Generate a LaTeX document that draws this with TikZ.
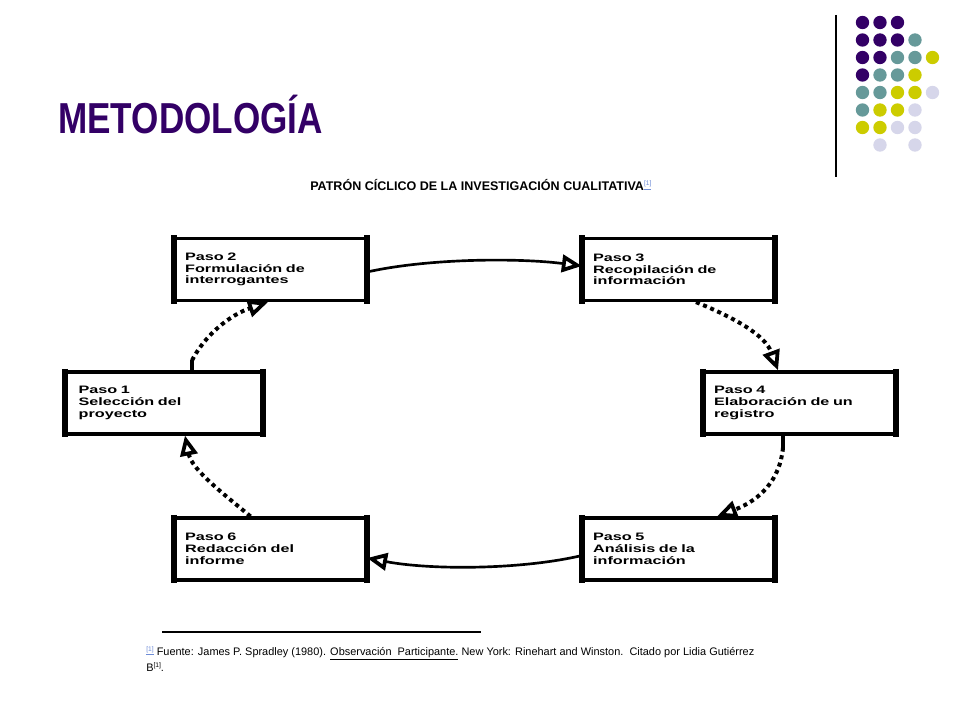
\documentclass[tikz,border=0pt]{standalone}
\usepackage{fontspec}
\setmainfont{Liberation Sans}
\newfontfamily\titlefont[FakeStretch=0.81]{Liberation Sans Bold}
\newfontfamily\boxfont[FakeStretch=1.5]{Liberation Sans Bold}
\newfontfamily\subfont{Liberation Sans Bold}
\usepackage{graphicx}
\usetikzlibrary{arrows.meta,calc}
\definecolor{mpurple}{RGB}{51,0,102}
\definecolor{mteal}{RGB}{102,153,153}
\definecolor{myellow}{RGB}{204,204,0}
\definecolor{mlav}{RGB}{214,214,234}
\definecolor{linkblue}{RGB}{110,140,215}
\begin{document}
\begin{tikzpicture}[x=0.75pt,y=-0.75pt,
  pbox/.style={draw, line width=2.4pt, inner xsep=7.1pt, inner ysep=0pt, align=left,
    minimum height=46.5pt, text width=128pt,
    font=\boxfont\fontsize{8.1}{8.8}\selectfont},
  dotline/.style={line width=3pt, dash pattern=on 3pt off 2.8pt},
  solline/.style={line width=2pt},
  otip/.style={-{Triangle[open,length=15pt,width=13pt,line width=2.8pt]}},
  plain/.style={anchor=base west, inner sep=0pt}
  ]
\useasboundingbox (0,0) rectangle (960,720);
\fill[white] (0,0) rectangle (960,720);

% decorative dots
\foreach \c/\r/\col in {1/1/mpurple,2/1/mpurple,3/1/mpurple,
  1/2/mpurple,2/2/mpurple,3/2/mpurple,4/2/mteal,
  1/3/mpurple,2/3/mpurple,3/3/mteal,4/3/mteal,5/3/myellow,
  1/4/mpurple,2/4/mteal,3/4/mteal,4/4/myellow,
  1/5/mteal,2/5/mteal,3/5/myellow,4/5/myellow,5/5/mlav,
  1/6/mteal,2/6/myellow,3/6/myellow,4/6/mlav,
  1/7/myellow,2/7/myellow,3/7/mlav,4/7/mlav,
  2/8/mlav,4/8/mlav}
  \fill[\col] ({862.5+17.5*(\c-1)},{22.5+17.5*(\r-1)}) circle[radius=5pt];
\draw[line width=1pt] (836,15) -- (836,177);

% titles
\node[plain, text=mpurple, font=\titlefont\fontsize{32.5}{34}\selectfont] (title) at (58,134) {METODOLOGÍA};
\node[plain, font=\subfont\fontsize{9.4}{10}\selectfont] (subtitle) at (310,190.5)
  {PATRÓN CÍCLICO DE LA INVESTIGACIÓN CUALITATIVA\raisebox{3.5pt}{\normalfont\fontsize{5}{5}\selectfont\textcolor{linkblue}{\underline{[1]}}}};

% boxes
\node[pbox, minimum width=142.5pt] (p2) at (270.5,269.5) {Paso 2\\Formulación de\\interrogantes};
\node[pbox, minimum width=142.5pt] (p3) at (678.5,269.5) {Paso 3\\Recopilación de\\información};
\node[pbox, minimum width=146.25pt] (p1) at (164,403) {Paso 1\\Selección del\\proyecto};
\node[pbox, minimum width=141pt] (p4) at (799.5,403) {Paso 4\\Elaboración de un\\registro};
\node[pbox, minimum width=142.5pt] (p6) at (270.5,549) {Paso 6\\Redacción del\\informe};
\node[pbox, minimum width=142.5pt] (p5) at (678.5,549) {Paso 5\\Análisis de la\\información};
\foreach \n in {p1,p2,p3,p4,p5,p6}{
  \draw[line width=4pt, shorten <=-1.2pt, shorten >=-1.2pt] (\n.north west) -- (\n.south west);
  \draw[line width=4pt, shorten <=-1.2pt, shorten >=-1.2pt] (\n.north east) -- (\n.south east);
}

% connectors
\draw[solline, otip] ($(p2.east)+(0,2.5)$) .. controls (430,258) and (520,258) .. ($(p3.west)+(0,-3.5)$);
\draw[dotline, otip] ($(p3.south)+(17.5,0)$) .. controls (735,318) and (765,335) .. ($(p4.north)+(-21.5,0)$);
\coordinate (s4) at ($(p4.south)+(-16.5,12)$);
\draw[solline, line width=3pt] ($(p4.south)+(-16.5,0)$) -- (s4);
\draw[dotline, otip] (s4) .. controls (780,480) and (760,500) .. ($(p5.north)+(38.5,0)$);
\draw[solline, otip] ($(p5.west)+(0,6.5)$) .. controls (520,570) and (430,570) .. ($(p6.east)+(0,9)$);
\draw[dotline, otip] ($(p6.north)+(-20,0)$) .. controls (225,495) and (192,470) .. ($(p1.south)+(21,0)$);
\coordinate (s1) at ($(p1.north)+(28,-10)$);
\draw[solline, line width=3pt] ($(p1.north)+(28,0)$) -- (s1);
\draw[dotline, otip] (s1) .. controls (205,335) and (230,315) .. ($(p2.south)+(-2.5,0)$);

% footnote
\draw[line width=1.5pt] (162,632) -- (481,632);
\node[plain, font=\fontsize{8.2}{9}\selectfont] (fn1) at (146,655)
  {\makebox[456pt][s]{\raisebox{3pt}{\fontsize{5}{5}\selectfont\textcolor{linkblue}{\underline{[1]}}} Fuente: James P. Spradley (1980). \underline{Observación\ \ Participante.} New York: Rinehart and Winston.\ \ Citado por Lidia Gutiérrez}};
\node[plain, font=\fontsize{8.2}{9}\selectfont] (fn2) at (146,671)
  {B\raisebox{3pt}{\fontsize{5}{5}\selectfont [1]}.};
\end{tikzpicture}
\end{document}
